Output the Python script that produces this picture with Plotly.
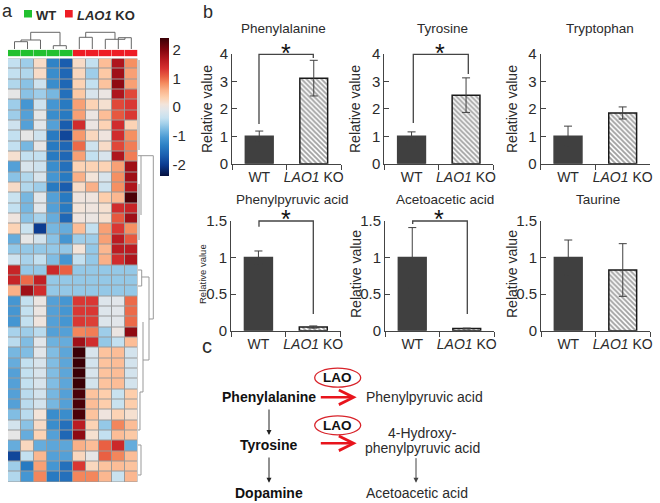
import plotly.graph_objects as go

W, H = 660, 503
FONT = "Liberation Sans"
TEXT = "#2b2b2b"

# heatmap values, one row per metabolite
heat_wt = [
    [-0.4, -0.6, 0.2, -1.3, -1.7], [-0.4, -0.5, 0.2, -1.2, -1.6], [-0.5, -0.7, -0.3, -1.2, -1.6],
    [-0.05, -0.7, -0.6, -0.8, -1.5], [-0.6, -1.1, -0.3, -1.1, -1.4], [-0.6, -1.0, -0.05, -1.2, -1.4],
    [-0.3, -1.0, -0.1, -1.0, -1.7], [-0.4, -0.05, -0.3, -1.4, -1.9], [-0.4, -0.8, -0.05, -1.4, -1.6],
    [0.15, -0.4, -0.4, -1.4, -1.6], [-1.0, -0.2, -0.3, -1.2, -1.5], [-0.7, -0.5, -0.2, -1.1, -1.4],
    [0.2, -0.5, -0.6, -1.4, -1.7], [-0.35, -0.8, -0.1, -1.0, -1.4], [-0.4, -0.8, -0.1, -1.0, -1.4],
    [0.05, -0.7, -0.55, -0.9, -1.6], [0.3, -0.35, -2.0, -0.8, -0.9], [-0.9, -0.05, -0.25, -0.7, -1.1],
    [-0.65, -0.65, -0.65, -0.65, -0.65], [-0.3, -0.55, -0.4, -0.75, -1.1], [1.5, -0.65, -0.65, 1.45, 1.05],
    [1.5, 1.0, 1.55, -0.65, -0.65], [0.6, 1.8, 1.4, -0.65, -0.65], [-1.1, -0.4, 0.0, -1.0, -1.1],
    [-1.1, -0.4, 0.0, -1.0, -1.1], [-1.1, -0.4, 0.05, -1.0, -1.1], [-0.55, -0.6, -0.45, -1.0, -1.0],
    [-0.45, -0.75, -0.1, -0.85, -0.9], [-0.8, -0.75, -0.1, -0.75, -0.95], [-0.9, -0.4, -0.2, -0.75, -0.95],
    [-1.0, -0.4, -0.2, -0.75, -0.95], [-1.0, -0.4, -0.2, -0.75, -0.95], [-1.0, -0.45, -0.25, -0.8, -1.0],
    [-1.0, -0.45, -0.25, -0.8, -1.0], [-0.75, -0.45, 0.1, -1.2, -1.2], [-0.25, -0.7, 0.2, -1.2, -1.5],
    [-0.05, -0.9, 0.3, -1.0, -1.6], [-0.9, 0.25, -0.9, -0.95, -0.95], [-1.9, -0.4, 0.55, -1.0, -1.0],
    [-0.6, -1.4, 0.7, -1.1, -1.5], [-0.5, -1.1, 0.85, -1.4, -1.5],
]
heat_ko = [
    [0.2, -0.4, 0.5, 1.7, 0.8], [0.25, -0.6, 0.4, 1.8, 0.7], [0.3, -0.4, 0.45, 1.9, 0.7],
    [0.4, -0.2, 0.0, 1.7, 1.2], [0.7, 0.3, 0.15, 1.2, 1.3], [0.7, 0.0, 0.5, 1.1, 1.3],
    [1.4, 0.0, 0.3, 1.4, 0.3], [0.75, 0.25, 0.05, 1.4, 0.8], [1.0, -0.3, 0.2, 1.2, 0.9],
    [0.7, -0.4, -0.2, 1.7, 0.9], [0.3, 0.3, 0.3, 0.7, 1.8], [0.6, 0.1, -0.2, 0.8, 1.8],
    [0.2, 0.6, -0.3, 0.8, 1.7], [0.05, 0.05, 0.35, 0.55, 2.3], [0.1, 0.05, 0.15, 1.4, 1.5],
    [0.05, 0.0, 0.15, 1.1, 1.8], [0.5, -0.4, 0.7, 1.3, 0.8], [-0.6, -0.6, 0.7, 1.6, 1.1],
    [0.1, -0.65, 0.55, 1.6, 1.6], [-0.4, -0.65, 0.6, 1.4, 1.7], [-0.65, -0.65, -0.65, -0.65, -0.65],
    [-0.65, -0.65, -0.65, -0.65, -0.65], [-0.65, -0.65, -0.65, -0.65, -0.65], [1.3, 1.3, -0.15, -0.1, 1.0],
    [1.3, 1.3, -0.15, -0.1, 1.0], [1.3, 1.25, -0.15, -0.1, 1.0], [0.85, 0.9, -0.6, 0.0, 1.9],
    [1.8, 1.4, -0.65, -0.4, 0.5], [2.4, -0.2, 0.45, 0.5, -0.25], [2.45, -0.25, 0.45, 0.5, -0.25],
    [2.45, -0.2, 0.45, 0.5, -0.25], [2.45, -0.25, 0.45, 0.5, -0.25], [2.3, 0.45, 0.35, -0.35, 0.35],
    [2.3, 0.5, 0.35, -0.35, 0.35], [2.3, 0.45, 0.05, 0.3, 0.15], [1.6, 0.3, -0.65, 0.85, 0.5],
    [1.9, 0.15, -0.4, 0.5, 0.4], [0.6, 0.5, 1.05, 1.45, -0.9], [0.25, -0.05, 1.05, 0.85, 0.5],
    [1.3, 0.25, 0.45, 0.5, 0.45], [0.85, 0.85, 0.55, -0.35, 0.55],
]
sample_groups = [0, 0, 0, 0, 0, 1, 1, 1, 1, 1]

# bar panels
categories = ["WT", "<i>LAO1</i> KO"]
panel_names = ["Phenylalanine", "Tyrosine", "Tryptophan", "Phenylpyruvic acid", "Acetoacetic acid", "Taurine"]
panel_values = [[1, 3.12], [1, 2.5], [1, 1.85], [1, 0.05], [1, 0.03], [1, 0.83]]
panel_errors = [[0.19, 0.65], [0.16, 0.63], [0.37, 0.22], [0.09, 0.015], [0.41, 0.005], [0.24, 0.36]]
panel_ticks = [[0, 1, 2, 3, 4]] * 3 + [[0, 0.5, 1, 1.5]] * 3

rdbu = [
    [0.0, "#05103f"], [0.08, "#0b3a8f"], [0.15, "#1b5fb0"], [0.22, "#2b7fc4"], [0.28, "#4a9ad4"],
    [0.34, "#7dbbe2"], [0.38, "#a3d0ea"], [0.42, "#c6e1f0"], [0.48, "#e2e6ea"], [0.52, "#f3e4da"],
    [0.57, "#fdd0ae"], [0.62, "#fbb48c"], [0.67, "#f58d60"], [0.72, "#e95f42"], [0.78, "#d63030"],
    [0.84, "#b81a20"], [0.91, "#85060f"], [1.0, "#3a0006"],
]


def fx(p):
    return p / W


def fy(p):
    return 1 - p / H


def label(x, y, text, size=14, color=TEXT, angle=0, anchor="center"):
    return dict(x=fx(x), y=fy(y), xref="paper", yref="paper", text=text, showarrow=False,
                xanchor=anchor, yanchor="middle", textangle=angle,
                font=dict(family=FONT, size=size, color=color))


def arrow(x0, y0, x1, y1, color, width, head, size):
    return dict(x=fx(x1), y=fy(y1), xref="paper", yref="paper", ax=x0 - x1, ay=y0 - y1, text="",
                showarrow=True, arrowhead=head, arrowsize=size, arrowwidth=width, arrowcolor=color)


def path(points, color="#555555", width=1.0):
    d = "M" + " L".join(f"{fx(x):.5f},{fy(y):.5f}" for x, y in points)
    return dict(type="path", path=d, xref="paper", yref="paper", line=dict(color=color, width=width))


fig = go.Figure()

# heatmap
rows = [a + b for a, b in zip(heat_wt, heat_ko)]
fig.add_trace(go.Heatmap(z=rows, x=list(range(10)), y=list(range(len(rows))), colorscale=rdbu,
                         zmin=-2.4, zmax=2.4, xgap=1, ygap=1, xaxis="x", yaxis="y",
                         colorbar=dict(x=fx(160), xanchor="left", xpad=0, y=fy(107), yanchor="middle", ypad=0,
                                       len=138, lenmode="pixels", thickness=9, outlinewidth=0,
                                       tickvals=[-2, -1, 0, 1, 2], ticktext=["-2", "-1", "0", "1", "2"], ticks="",
                                       tickfont=dict(family=FONT, size=15, color=TEXT))))
fig.add_trace(go.Heatmap(z=[sample_groups], x=list(range(10)), y=[0], zmin=0, zmax=1, showscale=False,
                         colorscale=[[0, "#21c02f"], [0.5, "#21c02f"], [0.5, "#ee1c25"], [1, "#ee1c25"]],
                         xgap=0.5, xaxis="x8", yaxis="y8"))

off = dict(visible=False, showgrid=False, zeroline=False)
layout = dict(
    xaxis=dict(domain=[fx(8), fx(137.5)], range=[-0.5, 9.5], **off),
    yaxis=dict(domain=[fy(482), fy(58.5)], range=[40.5, -0.5], **off),
    xaxis8=dict(domain=[fx(8), fx(137.5)], range=[-0.5, 9.5], anchor="y8", **off),
    yaxis8=dict(domain=[fy(56.3), fy(49.7)], range=[-0.5, 0.5], anchor="x8", **off),
)

# bar panels
bounds = [(232, 341, 54, 163.7), (384.3, 493.3, 54, 163.7), (540.7, 650, 54, 163.7),
          (231, 340.7, 221, 330.7), (385, 494, 221, 330.7), (541, 650, 221, 330.7)]
ylabel_x = [207, 355, 512, 202, 356, 512]
ylabel_y = [109, 109, 109, 274, 274, 274]
title_x = [283, 442, 600, 292, 445, 598]
title_y = [28, 28, 28, 200, 200, 200]
annotations = []

for i, name in enumerate(panel_names):
    n = i + 1
    left, right, top, base = bounds[i]
    fig.add_trace(go.Bar(x=categories, y=panel_values[i], width=0.51, xaxis=f"x{n + 1}", yaxis=f"y{n + 1}",
                         marker=dict(color=["#404040", "#ffffff"],
                                     line=dict(color=["#404040", "#1a1a1a"], width=1.5),
                                     pattern=dict(shape=["", "\\"], size=3.5, solidity=0.55, fgcolor="#666666")),
                         error_y=dict(type="data", array=panel_errors[i], color="#404040", thickness=1, width=4)))
    layout[f"xaxis{n + 1}"] = dict(domain=[fx(left), fx(right)], anchor=f"y{n + 1}", type="category",
                                   range=[-0.5, 1.5], tickson="boundaries", ticks="outside", ticklen=5,
                                   tickangle=0, tickcolor="#444444", showline=True, linecolor="#444444", linewidth=1,
                                   showgrid=False, tickfont=dict(family=FONT, size=14, color=TEXT))
    layout[f"yaxis{n + 1}"] = dict(domain=[fy(base), fy(top)], anchor=f"x{n + 1}",
                                   range=[0, panel_ticks[i][-1]], tickvals=panel_ticks[i], ticks="inside", ticklen=5,
                                   tickcolor="#444444", showline=True, linecolor="#444444", linewidth=1,
                                   showgrid=False, zeroline=False, tickfont=dict(family=FONT, size=15, color=TEXT))
    annotations.append(label(title_x[i], title_y[i], name, size=13.5))
    annotations.append(label(ylabel_x[i], ylabel_y[i], "Relative value", size=9.5 if i == 3 else 14, angle=-90))

# brackets and stars
shapes = [
    path([(259, 124), (259, 54.3), (313.3, 54.3), (313.3, 58)], "#444444", 1.3),
    path([(413.3, 123), (413.3, 54.3), (468.3, 54.3), (468.3, 74)], "#444444", 1.3),
    path([(259, 226.7), (259, 221), (313.3, 221), (313.3, 314)], "#444444", 1.3),
    path([(412.7, 224), (412.7, 221), (467.3, 221), (467.3, 314)], "#444444", 1.3),
]
for sx, sy in [(285.7, 53), (440, 53), (286, 219), (439.3, 219)]:
    annotations.append(label(sx, sy, "*", size=25, color="#111111"))

# cell border backing of the heatmap
shapes.append(dict(type="rect", layer="below", xref="paper", yref="paper", x0=fx(8), x1=fx(137.5), y0=fy(482),
                   y1=fy(58.5), fillcolor="#9a9a9a", line=dict(width=0)))

# top dendrogram
top_tree = [
    [(14.5, 49), (14.5, 41.7), (27.5, 41.7), (27.5, 49)],
    [(21, 41.7), (21, 40), (40.5, 40), (40.5, 49)],
    [(53.3, 49), (53.3, 45.7), (66.3, 45.7), (66.3, 49)],
    [(30.7, 40), (30.7, 32.3), (60, 32.3), (60, 45.7)],
    [(79.3, 49), (79.3, 37.3), (92.3, 37.3), (92.3, 49)],
    [(118.3, 49), (118.3, 37.7), (131.3, 37.7), (131.3, 49)],
    [(105.3, 49), (105.3, 39.3), (125, 39.3), (125, 37.7)],
    [(85.7, 37.3), (85.7, 32.3), (115, 32.3), (115, 39.3)],
]
# right dendrogram
right_tree = [
    [(138, 155.7), (141, 155.7), (141, 215)],
    [(141, 155.7), (153.3, 155.7), (153.3, 319), (149, 319)],
    [(149, 277), (149, 360), (143, 360)],
    [(149, 277), (141.7, 277), (141.7, 270), (138, 270)],
    [(141.7, 277), (141.7, 286), (138, 286)],
    [(143, 322), (143, 392), (140, 392)],
    [(140, 392), (140, 430), (138, 430)],
    [(139, 60), (139, 150)],
    [(139, 184), (139, 240)],
    [(138, 445), (141, 445), (141, 475), (138, 475)],
]
for seg in top_tree:
    shapes.append(path(seg, "#666666", 1))
for seg in right_tree:
    shapes.append(path(seg, "#999999", 1))

# legend squares
shapes.append(dict(type="rect", xref="paper", yref="paper", x0=fx(24), x1=fx(32), y0=fy(17.5), y1=fy(10),
                   fillcolor="#21c02f", line=dict(width=0)))
shapes.append(dict(type="rect", xref="paper", yref="paper", x0=fx(65), x1=fx(72.7), y0=fy(17.5), y1=fy(10),
                   fillcolor="#ee1c25", line=dict(width=0)))
annotations += [
    label(34, 15, "<b>WT</b>", size=13, anchor="left"),
    label(74.5, 15, "<b><i>LAO1</i> KO</b>", size=13, anchor="left"),
    label(0, 11, "a", size=18, anchor="left"),
    label(201, 12, "b", size=18, anchor="left"),
    label(200, 346, "c", size=20, anchor="left"),
]

# pathway in panel c
for y, text in [(397.3, "Phenylalanine"), (445, "Tyrosine"), (492.7, "Dopamine")]:
    annotations.append(label(268.7, y, f"<b>{text}</b>", size=14, color="#111111"))
annotations += [
    label(363.5, 397, "Phenylpyruvic acid", size=14, anchor="left"),
    label(422.7, 433, "4-Hydroxy-", size=14),
    label(422.7, 447.7, "phenylpyruvic acid", size=14),
    label(363.5, 492.7, "Acetoacetic acid", size=14, anchor="left"),
    label(337.7, 377.7, "<b>LAO</b>", size=13.5, color="#111111"),
    label(337.7, 425.3, "<b>LAO</b>", size=13.5, color="#111111"),
    arrow(269, 408, 269, 435, "#222222", 1, 2, 1),
    arrow(269, 456, 269, 482.7, "#222222", 1, 2, 1),
    arrow(416, 456.7, 416, 482.7, "#444444", 1, 2, 1),
    arrow(319.3, 397.3, 356.7, 397.3, "#e8141c", 2.4, 5, 1.2),
    arrow(319.3, 443.3, 356.7, 443.3, "#e8141c", 2.4, 5, 1.2),
]
for cy in [377.7, 425.3]:
    shapes.append(dict(type="circle", xref="paper", yref="paper", x0=fx(314.7), x1=fx(360.7), y0=fy(cy + 9.5),
                       y1=fy(cy - 9.5), line=dict(color="#d8232a", width=1.3)))

fig.update_layout(width=W, height=H, autosize=False, margin=dict(l=0, r=0, t=0, b=0, autoexpand=False),
                  showlegend=False, paper_bgcolor="white", plot_bgcolor="rgba(0,0,0,0)",
                  font=dict(family=FONT, color=TEXT), annotations=annotations, shapes=shapes, **layout)

fig.write_html("out.html", config={"displayModeBar": False},
               post_script="document.body.style.margin='0';document.body.style.overflow='hidden';")
